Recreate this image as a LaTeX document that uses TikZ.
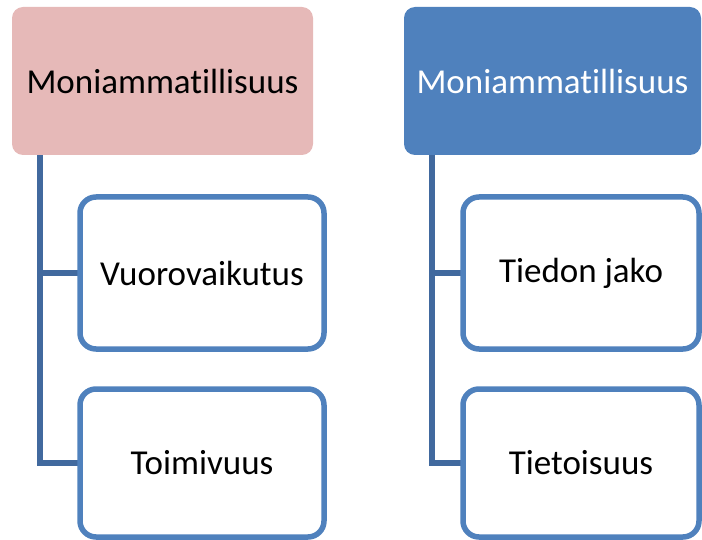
\documentclass[tikz,border=0pt]{standalone}
\usepackage{fontspec}
\setmainfont[Ligatures={NoCommon}]{Carlito}
\definecolor{pinkfill}{HTML}{E6B9B8}
\definecolor{bluefill}{HTML}{4F81BD}
\definecolor{childline}{HTML}{4F81BD}
\definecolor{connline}{HTML}{41699E}
\tikzset{
  topbox/.style={rectangle, rounded corners=11pt, minimum width=#1, minimum height=148pt, inner sep=0pt, font=\fontsize{35}{42}\selectfont},
  childbox/.style={rectangle, rounded corners=16pt, draw=childline, line width=5.5pt, fill=white, minimum width=#1, inner sep=0pt, font=\fontsize{35}{42}\selectfont},
  conn/.style={draw=connline, line width=5.5pt}
}
\begin{document}
\begin{tikzpicture}[x=1pt,y=-1pt]
\useasboundingbox (0,0) rectangle (702,540);
\clip (0,0) rectangle (702,540);
\node[topbox=301pt, fill=pinkfill, text=black] (t1) at (162.5,81) {Moniammatillisuus};
\node[topbox=297pt, fill=bluefill, text=white] (t2) at (552.5,81) {Moniammatillisuus};
\draw[conn] ([xshift=28pt]t1.south west) |- (80,463) coordinate (e2);
\draw[conn] ([xshift=28pt]t1.south west) |- (80,273) coordinate (e1);
\draw[conn] ([xshift=28pt]t2.south west) |- (463,463) coordinate (e4);
\draw[conn] ([xshift=28pt]t2.south west) |- (463,273) coordinate (e3);
\node[childbox=244pt, minimum height=152pt] (c1) at (202,273) {Vuorovaikutus};
\node[childbox=244pt, minimum height=148pt] (c2) at (202,463) {Toimivuus};
\node[childbox=236pt, minimum height=152pt] (c3) at (581,273) {Tiedon jako};
\node[childbox=236pt, minimum height=148pt] (c4) at (581,463) {Tietoisuus};
\end{tikzpicture}
\end{document}
